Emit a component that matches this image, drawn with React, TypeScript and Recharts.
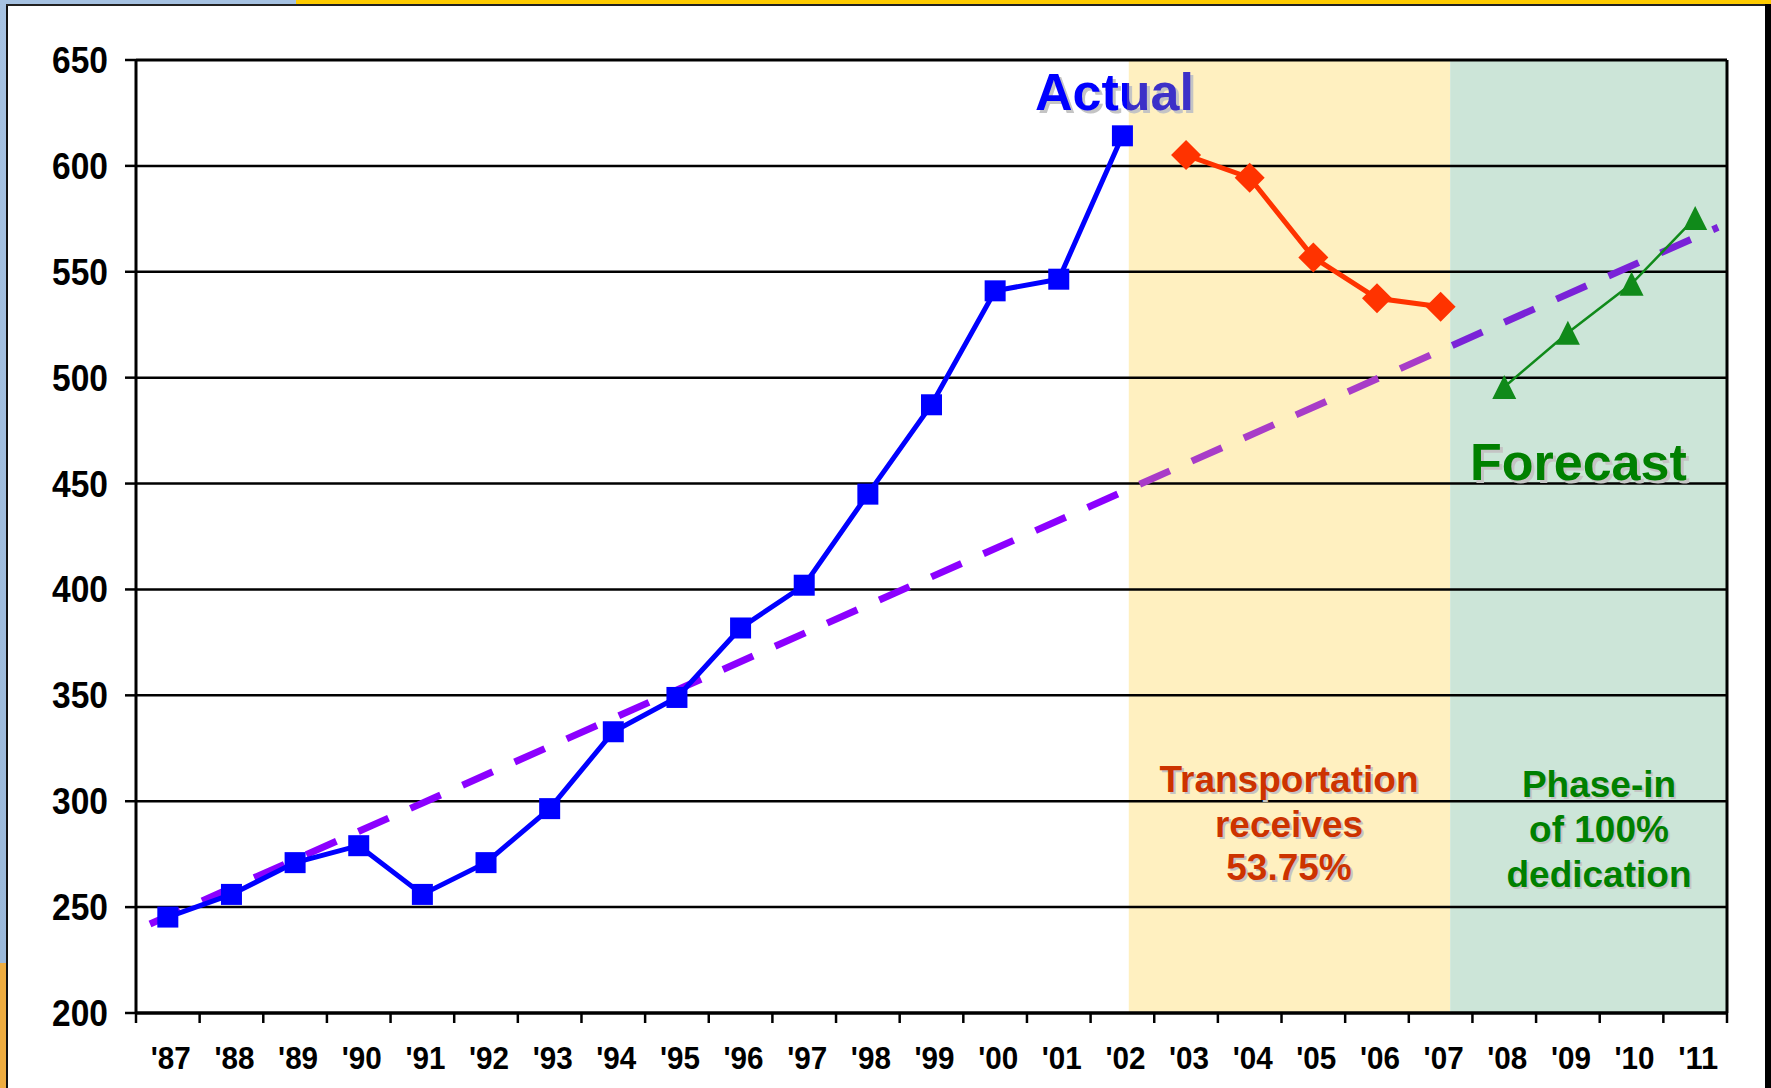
import React from 'react';
import { LineChart, Line, XAxis, YAxis, ReferenceArea, ReferenceLine } from 'recharts';

const categories = ["'87", "'88", "'89", "'90", "'91", "'92", "'93", "'94", "'95", "'96", "'97", "'98", "'99", "'00", "'01", "'02", "'03", "'04", "'05", "'06", "'07", "'08", "'09", "'10", "'11"];
const actualValues = [245.3, 256, 271, 279, 256, 271, 296.5, 332.8, 349, 381.8, 402, 445, 487.2, 541, 546.5, 614.2];
const transportValues = [605.1, 594.4, 556.8, 537.5, 533.5];
const forecastValues = [495.6, 521.2, 544.3, 575.4];
const trendX = [-0.28, 24.36];
const trendValues = [242, 571];
const yTicks = [200, 250, 300, 350, 400, 450, 500, 550, 600, 650];
const transportStartIndex = 16;
const forecastStartIndex = 21;
const shadeYellowRange = [15.1, 20.15];
const shadeGreenRange = [20.15, 24.5];

const actualData = actualValues.map((v, k) => ({ x: k, v }));
const transportData = transportValues.map((v, k) => ({ x: transportStartIndex + k, v }));
const forecastData = forecastValues.map((v, k) => ({ x: forecastStartIndex + k, v }));
const trendData = trendX.map((x, k) => ({ x, v: trendValues[k] }));
const xBoundaries = Array.from({ length: categories.length + 1 }, (_, k) => k - 0.5);

const W = 1771;
const H = 1088;
const M = { top: 60, right: 44, bottom: 0, left: 0 };
const X_AXIS_H = 75;
const Y_AXIS_W = 136;
const BAND = (W - M.right - Y_AXIS_W) / categories.length;
const FONT = '"Liberation Sans", Arial, Helvetica, sans-serif';

const XTick = (props: any) => {
  const { x, y, payload } = props;
  const idx = Math.round(payload.value + 0.5);
  if (idx < 0 || idx >= categories.length) return <g />;
  return (
    <text x={x + BAND / 2 + 3} y={y + 44} textAnchor="middle" fontFamily={FONT} fontWeight="bold" fontSize={32} textLength={40} lengthAdjust="spacingAndGlyphs" fill="#000">
      {categories[idx]}
    </text>
  );
};

const YTick = (props: any) => {
  const { x, y, payload } = props;
  return (
    <text x={x} y={y + 13} textAnchor="end" fontFamily={FONT} fontWeight="bold" fontSize={36} textLength={56} lengthAdjust="spacingAndGlyphs" fill="#000">
      {payload.value}
    </text>
  );
};

const squareDot = (p: any) => {
  if (p.cx == null || p.cy == null) return <g key={`sq-${p.index}`} />;
  return <rect key={`sq-${p.index}`} x={p.cx - 10.5} y={p.cy - 10.5} width={21} height={21} fill="#0000FF" />;
};
const diamondDot = (p: any) => {
  if (p.cx == null || p.cy == null) return <g key={`dm-${p.index}`} />;
  const r = 15;
  return <polygon key={`dm-${p.index}`} points={`${p.cx},${p.cy - r} ${p.cx + r},${p.cy} ${p.cx},${p.cy + r} ${p.cx - r},${p.cy}`} fill="#FF3300" />;
};
const triangleDot = (p: any) => {
  if (p.cx == null || p.cy == null) return <g key={`tr-${p.index}`} />;
  const r = 12;
  return <polygon key={`tr-${p.index}`} points={`${p.cx},${p.cy - r} ${p.cx + r},${p.cy + r} ${p.cx - r},${p.cy + r}`} fill="#108A1A" />;
};

const ShadowText = ({ x, y, size, fill, anchor, children, shadow = 2 }: any) => (
  <g>
    <text x={x + shadow} y={y + shadow} textAnchor={anchor} fontFamily={FONT} fontWeight="bold" fontSize={size} fill="#C4C4C4">{children}</text>
    <text x={x} y={y} textAnchor={anchor} fontFamily={FONT} fontWeight="bold" fontSize={size} fill={fill}>{children}</text>
  </g>
);

export default function App() {
  return (
    <div style={{ position: 'absolute', left: 0, top: 0, width: W, height: H, background: '#fff', overflow: 'hidden' }}>
      <div style={{ position: 'absolute', left: 0, top: 0, width: 6, height: 963, background: 'linear-gradient(#A6C2E2, #9BB9DA)' }} />
      <div style={{ position: 'absolute', left: 0, top: 963, width: 6, height: H - 963, background: '#EDAC40' }} />
      <div style={{ position: 'absolute', left: 0, top: 0, width: 296, height: 4, background: '#A6C2E2' }} />
      <div style={{ position: 'absolute', left: 296, top: 0, width: W - 296, height: 4, background: '#FFCC00' }} />
      <div style={{ position: 'absolute', left: 6, top: 4, width: 2, height: H - 4, background: '#111' }} />
      <div style={{ position: 'absolute', left: 6, top: 4, width: 1760, height: 1.5, background: '#222' }} />
      <div style={{ position: 'absolute', left: 1765, top: 4, width: 6, height: H - 4, background: '#000' }} />

      <div style={{ position: 'absolute', left: 0, top: 0 }}>
        <LineChart width={W} height={H} margin={M}>
          <defs>
            <linearGradient id="trendGrad" x1="0" y1="0" x2="1" y2="0">
              <stop offset="0" stopColor="#8C00FF" />
              <stop offset="0.6235" stopColor="#8C00FF" />
              <stop offset="0.6235" stopColor="#A83CC8" />
              <stop offset="0.8296" stopColor="#A83CC8" />
              <stop offset="0.8296" stopColor="#7A22D8" />
              <stop offset="1" stopColor="#7A22D8" />
            </linearGradient>
          </defs>
          <XAxis
            type="number"
            dataKey="x"
            domain={[-0.5, 24.5]}
            ticks={xBoundaries}
            interval={0}
            allowDataOverflow
            height={X_AXIS_H}
            tickSize={10}
            axisLine={{ stroke: '#000', strokeWidth: 3.5 }}
            tickLine={{ stroke: '#000', strokeWidth: 2.5 }}
            tick={<XTick />}
          />
          <YAxis
            type="number"
            domain={[200, 650]}
            ticks={yTicks}
            interval={0}
            allowDataOverflow
            width={Y_AXIS_W}
            tickSize={11}
            tickMargin={17}
            axisLine={{ stroke: '#000', strokeWidth: 3 }}
            tickLine={{ stroke: '#000', strokeWidth: 2.5 }}
            tick={<YTick />}
          />
          <ReferenceArea x1={shadeYellowRange[0]} x2={shadeYellowRange[1]} y1={200} y2={650} fill="#FFF0C0" fillOpacity={1} stroke="none" ifOverflow="visible" />
          <ReferenceArea x1={shadeGreenRange[0]} x2={shadeGreenRange[1]} y1={200} y2={650} fill="#CCE5D8" fillOpacity={1} stroke="none" ifOverflow="visible" />
          {yTicks.filter((t) => t !== 200).map((t) => (
            <ReferenceLine key={`g-${t}`} y={t} stroke="#000" strokeWidth={t === 650 ? 3 : 2.5} />
          ))}
          <ReferenceLine x={24.5} stroke="#000" strokeWidth={3} />
          <Line data={trendData} dataKey="v" type="linear" stroke="url(#trendGrad)" strokeWidth={7} strokeDasharray="33 24" dot={false} activeDot={false} isAnimationActive={false} />
          <Line data={actualData} dataKey="v" type="linear" stroke="#0000FF" strokeWidth={5} dot={squareDot} activeDot={false} isAnimationActive={false} />
          <Line data={transportData} dataKey="v" type="linear" stroke="#FF3300" strokeWidth={5} dot={diamondDot} activeDot={false} isAnimationActive={false} />
          <Line data={forecastData} dataKey="v" type="linear" stroke="#108A1A" strokeWidth={2.5} dot={triangleDot} activeDot={false} isAnimationActive={false} />
        </LineChart>
      </div>

      <svg width={W} height={H} style={{ position: 'absolute', left: 0, top: 0, pointerEvents: 'none' }}>
        <defs>
          <linearGradient id="actualGrad" x1="0" y1="0" x2="1" y2="0">
            <stop offset="0" stopColor="#0000FF" />
            <stop offset="0.58" stopColor="#0000FF" />
            <stop offset="0.58" stopColor="#3C30C8" />
            <stop offset="1" stopColor="#3C30C8" />
          </linearGradient>
        </defs>
        <ShadowText x={1035} y={110} size={52} fill="url(#actualGrad)" anchor="start" shadow={3}>Actual</ShadowText>
        <ShadowText x={1470} y={480} size={52} fill="#008000" anchor="start" shadow={3}>Forecast</ShadowText>
        <ShadowText x={1289} y={792} size={37} fill="#CC3300" anchor="middle">Transportation</ShadowText>
        <ShadowText x={1289} y={837} size={37} fill="#CC3300" anchor="middle">receives</ShadowText>
        <ShadowText x={1289} y={880} size={37} fill="#CC3300" anchor="middle">53.75%</ShadowText>
        <ShadowText x={1599} y={797} size={37} fill="#008000" anchor="middle">Phase-in</ShadowText>
        <ShadowText x={1599} y={842} size={37} fill="#008000" anchor="middle">of 100%</ShadowText>
        <ShadowText x={1599} y={887} size={37} fill="#008000" anchor="middle">dedication</ShadowText>
      </svg>
    </div>
  );
}
